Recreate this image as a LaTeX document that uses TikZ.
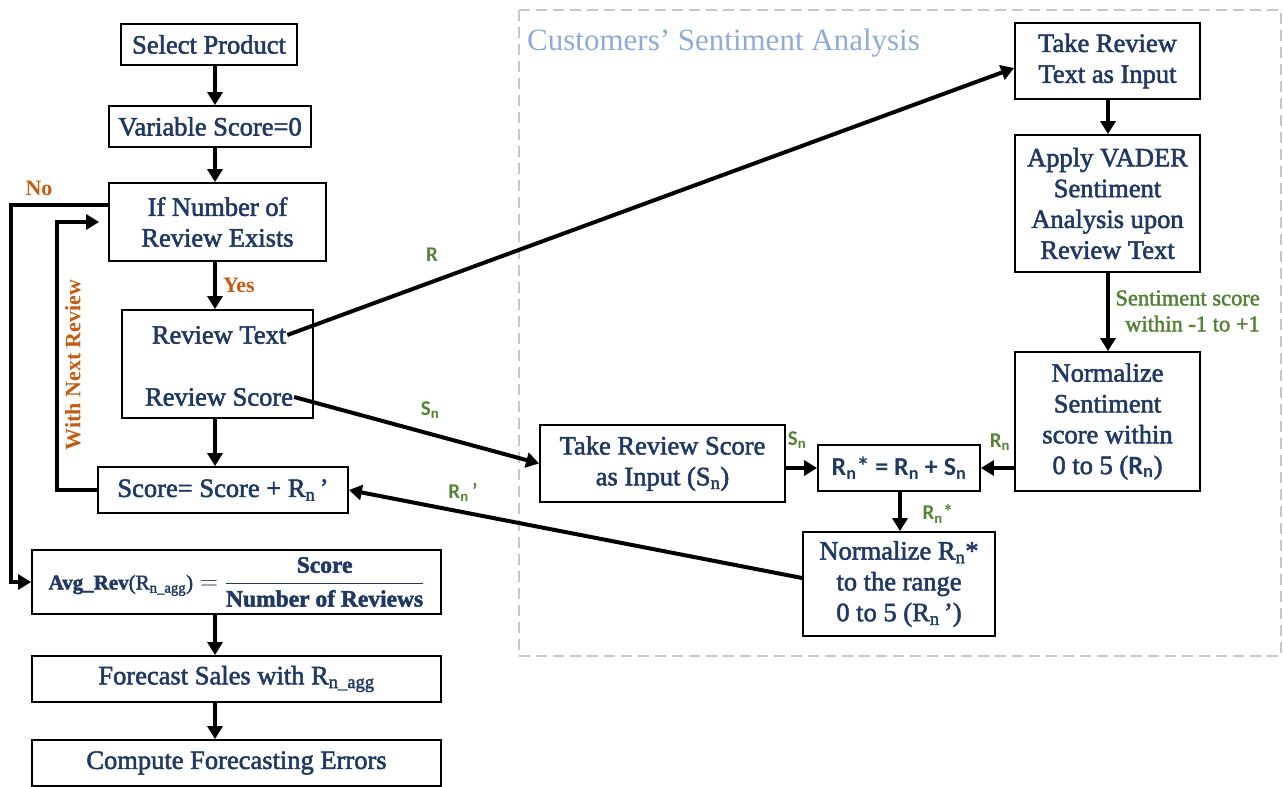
\documentclass[tikz,border=0pt]{standalone}
\usepackage{fontspec}
\setmainfont{Liberation Serif}
\newfontfamily\boxfont{Liberation Serif}[FakeBold=2]
\newfontfamily\calib{Carlito}
\usetikzlibrary{arrows.meta}
\definecolor{navy}{HTML}{1F3864}
\definecolor{lgreen}{HTML}{548235}
\definecolor{orng}{HTML}{C55A11}
\definecolor{ttl}{HTML}{8EAADB}
\definecolor{dgray}{HTML}{C8C8C8}
\begin{document}
\begin{tikzpicture}[x=1pt,y=-1pt,
 box/.style={draw=black,line width=1.8pt,fill=white,text=navy,align=center,inner sep=0pt,font=\boxfont\fontsize{26.5}{30.8}\selectfont},
 txt/.style={text=navy,inner sep=1pt,font=\boxfont\fontsize{26.5}{30.8}\selectfont},
 arr/.style={line width=4pt,-{Triangle[length=13pt,width=15pt]}},
 lbl/.style={text=lgreen,font=\calib\bfseries\fontsize{21}{22}\selectfont,inner sep=0pt},
 olbl/.style={text=orng,font=\bfseries\fontsize{22}{24}\selectfont,inner sep=0pt}]
\useasboundingbox (0,0) rectangle (1283,787);
\draw[dgray,line width=1.8pt,dash pattern=on 11pt off 6pt] (519,10) rectangle (1281,656);
\node[anchor=west,text=ttl,font=\fontsize{31}{34}\selectfont,inner sep=0pt] (title) at (527,43) {Customers’ Sentiment Analysis};
% left column
\node[box,minimum width=176pt,minimum height=41pt] (sel) at (209,44.5) {Select Product};
\node[box,minimum width=202pt,minimum height=41pt] (var) at (210,126.5) {Variable Score=0};
\node[box,minimum width=217pt,minimum height=78pt] (ifn) at (217.5,222) {If Number of\\Review Exists};
\node[box,minimum width=191pt,minimum height=108pt] (rev) at (217.5,364) {};
\node[txt] (revT) at (219,335) {Review Text};
\node[txt] (revS) at (219,397) {Review Score};
\node[box,minimum width=250pt,minimum height=46pt] (score) at (223,490) {Score= Score + R\textsubscript{n}\,’};
\node[box,minimum width=409pt,minimum height=64pt,font=\boxfont\fontsize{23.5}{26}\selectfont] (avg) at (236.5,582)
 {$\displaystyle \mbox{\fontsize{21}{24}\selectfont\bfseries Avg\_Rev}\mbox{\fontsize{21}{24}\selectfont(R\textsubscript{n\_agg})} = \frac{\mbox{\bfseries Score}}{\mbox{\bfseries Number of Reviews}}$};
\node[box,minimum width=409pt,minimum height=46pt] (fc) at (236.5,679) {Forecast Sales with R\textsubscript{n\_agg}};
\node[box,minimum width=409pt,minimum height=46pt] (ce) at (236.5,763) {Compute Forecasting Errors};
% right part
\node[box,minimum width=185pt,minimum height=76pt] (trt) at (1107.5,61) {Take Review\\Text as Input};
\node[box,minimum width=185pt,minimum height=137pt] (vader) at (1107.5,203.5) {Apply VADER\\Sentiment\\Analysis upon\\Review Text};
\node[box,minimum width=185pt,minimum height=139pt] (normS) at (1107.5,421.5) {Normalize\\Sentiment\\score within\\0 to 5 ({\calib\bfseries R\textsubscript{n}})};
\node[box,minimum width=162pt,minimum height=46pt,font=\calib\bfseries\fontsize{26}{30}\selectfont] (rstar) at (899,468) {R\textsubscript{n}* = R\textsubscript{n} + S\textsubscript{n}};
\node[box,minimum width=245pt,minimum height=77pt] (trs) at (662.5,463.5) {Take Review Score\\as Input (S\textsubscript{n})};
\node[box,minimum width=192pt,minimum height=104pt] (normR) at (899,584) {Normalize R\textsubscript{n}*\\to the range\\0 to 5 (R\textsubscript{n}\,’)};
% left arrows
\coordinate (ax) at (215,0);
\draw[arr] (sel.south -| ax) -- (var.north -| ax);
\draw[arr] (var.south -| ax) -- (ifn.north -| ax);
\draw[arr] (ifn.south -| ax) -- (rev.north -| ax) node[midway,right=6pt,olbl]{Yes};
\draw[arr] (rev.south -| ax) -- (score.north -| ax);
\draw[arr,shorten >=9pt] (score.west) -- (57,490) |- (ifn.west);
\node[olbl,rotate=90] (wnr) at (73,365) {With Next Review};
\draw[arr] ([yshift=17pt]ifn.west) -- (11,205) |- (avg.west);
\node[olbl] (no) at (39,188) {No};
\draw[arr] (avg.south -| ax) -- (fc.north -| ax);
\draw[arr] (fc.south -| ax) -- (ce.north -| ax);
% right arrows
\coordinate (bx) at (1108,0);
\draw[arr] (trt.south -| bx) -- (vader.north -| bx);
\draw[arr] (vader.south -| bx) -- (normS.north -| bx);
\node[anchor=east,align=right,text=lgreen,font=\boxfont\fontsize{22.5}{26}\selectfont,inner sep=0pt] (sslbl) at (1260,311) {Sentiment score\\within -1 to +1};
\draw[arr] (normS.west |- rstar.east) -- (rstar.east);
\node[lbl] (rnl) at (1000,442) {R\textsubscript{n}};
\draw[arr] (trs.east |- rstar.west) -- (rstar.west);
\node[lbl] (snl) at (797,440) {S\textsubscript{n}};
\coordinate (cx) at (900,0);
\draw[arr] (rstar.south -| cx) -- (normR.north -| cx);
\node[lbl] (rsl) at (938,514) {R\textsubscript{n}*};
\draw[arr] ([yshift=6pt]normR.west) -- (score.east);
\node[lbl] (rpl) at (463,492) {R\textsubscript{n}\,’};
\draw[arr] (revT.east) -- ([yshift=-7pt]trt.west);
\node[lbl] (rl) at (432,255) {R};
\draw[arr] (revS.east) -- (trs.west);
\node[lbl] (snl2) at (430,410) {S\textsubscript{n}};
\end{tikzpicture}
\end{document}
